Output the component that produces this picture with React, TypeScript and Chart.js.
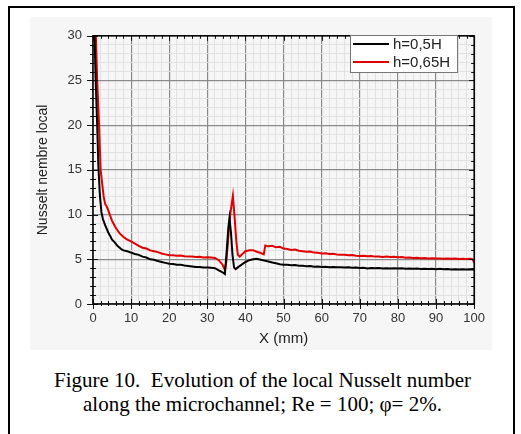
import React, { useEffect, useRef } from "react";
import { Chart, registerables } from "chart.js";

Chart.register(...registerables);

const seriesLabels = ["h=0,5H", "h=0,65H"];
const seriesColors = ["#000000", "#e00000"];

const xBlack = [0.2, 0.4, 0.7, 1.1, 1.4, 1.8, 2.2, 2.6, 3.1, 3.6, 4.0, 4.4, 5.0, 5.7, 6.4, 7.0, 7.5, 8, 9,
  10, 11, 12, 13, 14, 15, 16, 17, 18, 19, 20, 21, 22, 23, 24, 25, 26, 27, 28, 29, 30, 31, 32, 33, 34, 34.6,
  35.0, 35.5, 35.8, 36.2, 36.6, 37.0, 37.4, 38, 39, 40, 41, 42, 43, 44, 45, 46, 47, 48, 49,
  50, 51, 52, 53, 54, 55, 56, 57, 58, 59, 60, 61, 62, 63, 64, 65, 66, 67, 68, 69, 70, 71, 72, 73, 74, 75,
  76, 77, 78, 79, 80, 81, 82, 83, 84, 85, 86, 87, 88, 89, 90, 91, 92, 93, 94, 95, 96, 97, 98, 99, 100];
const nuBlack = [42, 30, 25, 20, 15.5, 12.2, 10.3, 9.5, 8.9, 8.4, 8.0, 7.7, 7.2, 6.9, 6.5, 6.3, 6.1, 6.0, 5.9,
  5.75, 5.6, 5.5, 5.3, 5.2, 5.0, 4.95, 4.8, 4.7, 4.6, 4.5, 4.48, 4.4, 4.38, 4.3, 4.25, 4.2, 4.15, 4.13, 4.08, 4.07, 4.05, 4.0, 3.75, 3.55, 3.35,
  5.5, 8.5, 9.6, 8.0, 5.5, 4.1, 3.9, 4.1, 4.4, 4.7, 4.9, 5.0, 5.05, 4.95, 4.85, 4.75, 4.65, 4.55, 4.45,
  4.4, 4.38, 4.33, 4.35, 4.28, 4.27, 4.22, 4.24, 4.18, 4.2, 4.15, 4.17, 4.12, 4.14, 4.1, 4.12, 4.08, 4.1, 4.05, 4.07, 4.03, 4.06, 3.98, 4.03, 4.0, 4.02,
  3.98, 4.01, 3.96, 4.0, 3.97, 3.99, 3.94, 3.97, 3.93, 3.96, 3.92, 3.95, 3.91, 3.94, 3.9, 3.93, 3.88, 3.91, 3.87, 3.9, 3.86, 3.89, 3.85, 3.88, 3.85];

const xRed = [0.5, 0.75, 1.1, 1.6, 2.0, 2.4, 2.8, 3.2, 3.6, 4.0, 4.4, 5.0, 5.5, 6, 7, 8, 9,
  10, 11, 12, 13, 14, 15, 16, 17, 18, 19, 20, 21, 22, 23, 24, 25, 26, 27, 28, 29, 30, 31, 32, 33, 34, 34.6,
  35.0, 35.5, 36, 36.7, 37.1, 37.6, 38.0, 38.5, 39, 40, 41, 42, 43, 44, 44.8,
  45.2, 46, 47, 48, 49, 50, 51, 52, 53, 54, 55, 56, 57, 58, 59, 60, 61, 62, 63, 64, 65, 66, 67, 68, 69, 70,
  71, 72, 73, 74, 75, 76, 77, 78, 79, 80, 81, 82, 83, 84, 85, 86, 87, 88, 89, 90, 91, 92, 93, 94, 95, 96, 97, 98, 99, 99.6, 100];
const nuRed = [40, 30, 25, 20, 15, 13.5, 12, 11.2, 10.9, 10.5, 10.0, 9.3, 8.9, 8.5, 7.9, 7.5, 7.2,
  7.0, 6.75, 6.5, 6.3, 6.2, 6.0, 5.9, 5.8, 5.65, 5.55, 5.45, 5.45, 5.4, 5.42, 5.35, 5.3, 5.32, 5.25, 5.28, 5.2, 5.23, 5.2, 5.15, 4.9, 4.4, 3.8,
  4.8, 7.5, 10, 12.1, 10, 7.0, 5.5, 5.3, 5.5, 5.9, 6.0, 6.0, 5.85, 5.7, 5.55,
  6.55, 6.45, 6.5, 6.35, 6.4, 6.2, 6.15, 6.05, 6.1, 5.95, 5.9, 5.85, 5.88, 5.75, 5.72, 5.65, 5.68, 5.6, 5.62, 5.55, 5.52, 5.5, 5.45, 5.48, 5.4, 5.38,
  5.4, 5.33, 5.36, 5.3, 5.32, 5.27, 5.3, 5.25, 5.28, 5.22, 5.25, 5.18, 5.2, 5.15, 5.18, 5.12, 5.15, 5.1, 5.13, 5.08, 5.1, 5.06, 5.09, 5.05, 5.08, 5.04, 5.07, 5.03, 5.05, 5.0, 4.6];

const xMin = 0, xMax = 100, xStep = 2, xMajor = 10;
const yMin = 0, yMax = 30, yStep = 1, yMajor = 5;

const FONT = "'Liberation Sans', Arial, sans-serif";

const framePlugin = {
  id: "frameTicks",
  afterDraw(chart: any) {
    const { ctx, chartArea: a, scales } = chart;
    const xs = scales.x, ys = scales.y;
    ctx.save();
    ctx.strokeStyle = "#111";
    ctx.lineWidth = 1;
    ctx.beginPath();
    for (let v = xMin; v <= xMax + 1e-9; v += xStep) {
      const px = Math.round(xs.getPixelForValue(v)) + 0.5;
      const major = Math.abs(v % xMajor) < 1e-9;
      const inL = major ? 5 : 3;
      ctx.moveTo(px, a.bottom + (major ? 5 : 2)); ctx.lineTo(px, a.bottom - inL);
      ctx.moveTo(px, a.top); ctx.lineTo(px, a.top + inL);
    }
    for (let v = yMin; v <= yMax + 1e-9; v += yStep) {
      const py = Math.round(ys.getPixelForValue(v)) + 0.5;
      const major = Math.abs(v % yMajor) < 1e-9;
      const inL = major ? 5 : 3;
      ctx.moveTo(a.left - (major ? 6 : 3), py); ctx.lineTo(a.left + inL, py);
      ctx.moveTo(a.right, py); ctx.lineTo(a.right - inL, py);
    }
    ctx.stroke();
    ctx.lineWidth = 1.5;
    ctx.strokeStyle = "#000";
    ctx.strokeRect(a.left, a.top, a.right - a.left, a.bottom - a.top);

    // legend
    const lx = 350 - 30, ly = 35 - 17, lw = 107, lh = 37;
    ctx.fillStyle = "#ffffff";
    ctx.fillRect(lx, ly, lw, lh);
    ctx.lineWidth = 1;
    ctx.strokeStyle = "#777";
    ctx.strokeRect(lx + 0.5, ly + 0.5, lw, lh);
    ctx.font = `15px ${FONT}`;
    ctx.textBaseline = "middle";
    ctx.textAlign = "left";
    chart.data.datasets.forEach((ds: any, i: number) => {
      const yy = ly + 9 + i * 18;
      ctx.strokeStyle = ds.borderColor;
      ctx.lineWidth = 2;
      ctx.beginPath();
      ctx.moveTo(lx + 3, yy);
      ctx.lineTo(lx + 39, yy);
      ctx.stroke();
      ctx.fillStyle = "#222";
      ctx.fillText(ds.label, lx + 43, yy + 1);
    });
    ctx.restore();
  },
};

export default function App() {
  const ref = useRef<HTMLCanvasElement>(null);
  useEffect(() => {
    if (!ref.current) return;
    const chart = new Chart(ref.current, {
      type: "line",
      data: {
        datasets: [
          {
            label: seriesLabels[0],
            data: xBlack.map((x, i) => ({ x, y: nuBlack[i] })),
            borderColor: seriesColors[0],
            borderWidth: 2,
            pointRadius: 0,
            tension: 0,
          },
          {
            label: seriesLabels[1],
            data: xRed.map((x, i) => ({ x, y: nuRed[i] })),
            borderColor: seriesColors[1],
            borderWidth: 2,
            pointRadius: 0,
            tension: 0,
          },
        ],
      },
      options: {
        animation: false,
        responsive: false,
        devicePixelRatio: 1,
        layout: { padding: { top: 10, right: 12, left: 0, bottom: 0 } },
        plugins: { legend: { display: false }, tooltip: { enabled: false } },
        scales: {
          x: {
            type: "linear",
            min: xMin,
            max: xMax,
            afterFit: (s: any) => { s.height = 46; },
            ticks: {
              stepSize: xStep,
              autoSkip: false,
              maxRotation: 0,
              padding: 7,
              color: "#333",
              font: { family: FONT, size: 13 },
              callback: (v: any) => (Number(v) % xMajor === 0 ? String(v) : ""),
            },
            grid: {
              drawTicks: false,
              color: (c: any) => (c.tick && c.tick.value % xMajor === 0 ? "#8a8a8a" : "#e2e2e2"),
              lineWidth: (c: any) => (c.tick && c.tick.value % xMajor === 0 ? 1.2 : 1),
            },
            border: { display: false },
            title: { display: true, text: "X (mm)", color: "#222", font: { family: FONT, size: 15 }, padding: { top: 0, bottom: 2 } },
          },
          y: {
            type: "linear",
            min: yMin,
            max: yMax,
            afterFit: (s: any) => { s.width = 63; },
            ticks: {
              stepSize: yStep,
              autoSkip: false,
              padding: 11,
              color: "#333",
              font: { family: FONT, size: 13 },
              callback: (v: any) => (Number(v) % yMajor === 0 ? String(v) : ""),
            },
            grid: {
              drawTicks: false,
              color: (c: any) => (c.tick && c.tick.value % yMajor === 0 ? "#8a8a8a" : "#e2e2e2"),
              lineWidth: (c: any) => (c.tick && c.tick.value % yMajor === 0 ? 1.2 : 1),
            },
            border: { display: false },
            title: { display: true, text: "Nusselt nembre local", color: "#222", font: { family: FONT, size: 14 }, padding: { top: 5, bottom: 0 } },
          },
        },
      },
      plugins: [framePlugin],
    });
    return () => chart.destroy();
  }, []);

  return (
    <div style={{ position: "absolute", left: 0, top: 0, width: 521, height: 434, overflow: "hidden", background: "#fff" }}>
      <div style={{ position: "absolute", left: 8, top: 6, width: 507, height: 440, border: "2px solid #000", boxSizing: "border-box" }} />
      <canvas
        ref={ref}
        width={462}
        height={333}
        style={{ position: "absolute", left: 30, top: 17, width: 462, height: 333, background: "#f6f6f6" }}
      />
      <div
        style={{
          position: "absolute",
          left: 10,
          top: 368,
          width: 505,
          textAlign: "center",
          fontFamily: "'Liberation Serif', 'Times New Roman', serif",
          fontSize: 21,
          lineHeight: "24px",
          color: "#000",
          whiteSpace: "nowrap",
        }}
      >
        <div>Figure 10.&nbsp; Evolution of the local Nusselt number</div>
        <div>along the microchannel; Re = 100; φ= 2%.</div>
      </div>
    </div>
  );
}
